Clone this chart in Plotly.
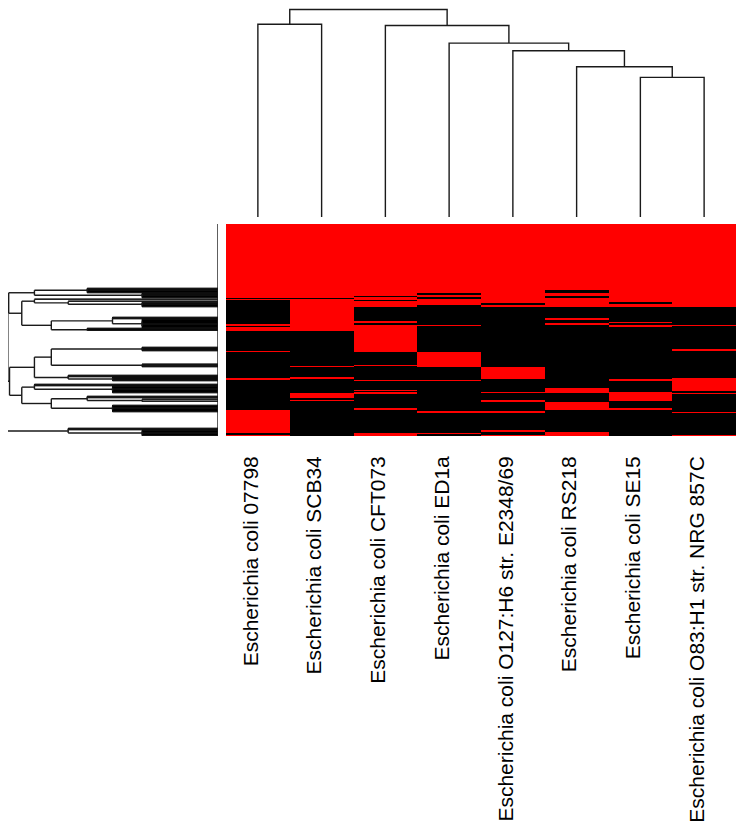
import numpy as np
import plotly.graph_objects as go

# column labels (order as drawn, left to right)
strains = ["Escherichia coli 07798", "Escherichia coli SCB34", "Escherichia coli CFT073",
           "Escherichia coli ED1a", "Escherichia coli O127:H6 str. E2348/69",
           "Escherichia coli RS218", "Escherichia coli SE15",
           "Escherichia coli O83:H1 str. NRG 857C"]

n_rows = 212

# black (absent) row runs per column, [start, end) in row order top -> bottom; everything else red
black_runs = [
    [(74, 75), (76, 100), (102, 103), (107, 127), (128, 154), (156, 186), (209, 211)],
    [(74, 75), (107, 142), (143, 153), (155, 169), (174, 176), (177, 212)],
    [(72, 73), (76, 77), (83, 97), (99, 101), (128, 141), (142, 156), (157, 166), (167, 168), (170, 184), (186, 209)],
    [(69, 71), (73, 75), (81, 101), (102, 128), (143, 156), (157, 187), (189, 209), (210, 212)],
    [(79, 81), (83, 143), (155, 168), (169, 176), (178, 187), (189, 206), (208, 211)],
    [(66, 69), (72, 74), (83, 94), (96, 99), (101, 164), (169, 178), (186, 208)],
    [(78, 80), (83, 98), (99, 101), (103, 155), (157, 168), (177, 184), (186, 212)],
    [(83, 101), (102, 125), (127, 154), (167, 169), (170, 188), (189, 211)],
]

# column dendrogram merges: (left, right, height); ids >= 8 are earlier merges
col_merges = [(6, 7, 67.3), (5, 8, 72.4), (4, 9, 80.1), (3, 10, 83.8),
              (2, 11, 92.3), (0, 1, 92.9), (13, 12, 100.0)]

# row dendrogram: node = (height, left, right), leaf = [first_row, end_row]
T = (87, (62, [64, 66], [66, 69]), (36, [69, 71], [71, 74]))
T2 = (87, [75, 76], (71, [77, 78], (36, [78, 80], [80, 83])))
B = (79, (50, [93, 95], (36, [95, 100], [100, 104])), (62, [104, 106], [106, 107]))
A = (93, T2, B)
C = (87, (79, (36, [123, 125], [125, 127]), (36, [140, 141], [141, 143])),
     (71, [151, 153], (50, [153, 155], [155, 157])))
D = (93, (87, [160, 162], (50, [162, 165], [165, 169])),
     (79, (62, [172, 174], (36, [175, 176], [177, 178])), (50, [181, 184], [184, 188])))
E = (71, [204, 206], (36, [206, 209], [209, 212]))
row_tree = (100, (99.6, (99.2, T, A), (98.8, C, D)), E)

# the page body has an 8px margin, so the figure is laid out from there
OFF = 8
W, H = 737, 824
LC = "#1a1a1a"


def px(x):
    return (x - OFF) / W


def py(y):
    return 1 - (y - OFF) / H


z = np.ones((n_rows, len(strains)))
for c, runs in enumerate(black_runs):
    for a, b in runs:
        z[a:b, c] = 0

fig = go.Figure()
fig.add_trace(go.Heatmap(z=z, x=list(range(len(strains))), y=list(range(n_rows)),
                         colorscale=[[0, "#000000"], [1, "#ff0000"]], zmin=0, zmax=1,
                         showscale=False, hoverinfo="skip", xaxis="x", yaxis="y"))

# column dendrogram
pos = {i: (float(i), 0.0) for i in range(len(strains))}
cx, cy = [], []
for k, (a, b, h) in enumerate(col_merges):
    xa, ha = pos[a]
    xb, hb = pos[b]
    cx += [xa, xa, xb, xb, None]
    cy += [ha, h, h, hb, None]
    pos[len(strains) + k] = ((xa + xb) / 2, h)
fig.add_trace(go.Scatter(x=cx, y=cy, mode="lines", line=dict(color=LC, width=1.4),
                         hoverinfo="skip", xaxis="x2", yaxis="y2", cliponaxis=False))

# row dendrogram
lx, ly, rx, ry = [], [], [], []


def walk(node):
    if isinstance(node, list):
        return (node[0] + node[1] - 1) / 2
    h, left, right = node
    ys = []
    for ch in (left, right):
        y = walk(ch)
        if isinstance(ch, list):
            y0, y1 = ch[0] - 0.35, ch[1] - 0.65
            rx.extend([0, h, h, 0, 0, None])
            ry.extend([y0, y0, y1, y1, y0, None])
        else:
            lx.extend([ch[0], h, None])
            ly.extend([y, y, None])
        ys.append(y)
    lx.extend([h, h, None])
    ly.extend([ys[0], ys[1], None])
    return sum(ys) / 2


walk(row_tree)
lx.extend([0, 0, None])
ly.extend([-0.5, n_rows - 0.5, None])
fig.add_trace(go.Scatter(x=rx, y=ry, mode="lines", fill="toself", fillcolor="#000000",
                         line=dict(color="#000000", width=1), hoverinfo="skip",
                         xaxis="x3", yaxis="y3"))
fig.add_trace(go.Scatter(x=lx, y=ly, mode="lines", line=dict(color=LC, width=1.4),
                         hoverinfo="skip", xaxis="x3", yaxis="y3"))

hx = [px(226), px(736)]
hy = [py(436), py(224)]
k_top = (217 - 9.5) / 100  # px per height unit, root sits just inside the top
fig.update_layout(
    width=W, height=H, margin=dict(l=0, r=0, t=0, b=0),
    paper_bgcolor="white", plot_bgcolor="white", showlegend=False,
    xaxis=dict(domain=hx, range=[-0.5, 7.5], tickvals=list(range(len(strains))),
               ticktext=strains, tickangle=-90, ticks="", showgrid=False, zeroline=False,
               showline=False, ticklabelstandoff=15, ticklabelshift=-7,
               tickfont=dict(family="Arial, Liberation Sans", size=21, color="black")),
    yaxis=dict(domain=hy, range=[n_rows - 0.5, -0.5], visible=False),
    xaxis2=dict(domain=hx, range=[-0.5, 7.5], visible=False, anchor="y2"),
    yaxis2=dict(domain=[py(217), 1], range=[0, (217 - OFF) / k_top], visible=False, anchor="x2"),
    xaxis3=dict(domain=[0, px(218)], range=[(218 - OFF) / 2.11, 0], visible=False, anchor="y3"),
    yaxis3=dict(domain=hy, range=[n_rows - 0.5, -0.5], visible=False, anchor="x3"),
)

fig.write_html("out.html")
